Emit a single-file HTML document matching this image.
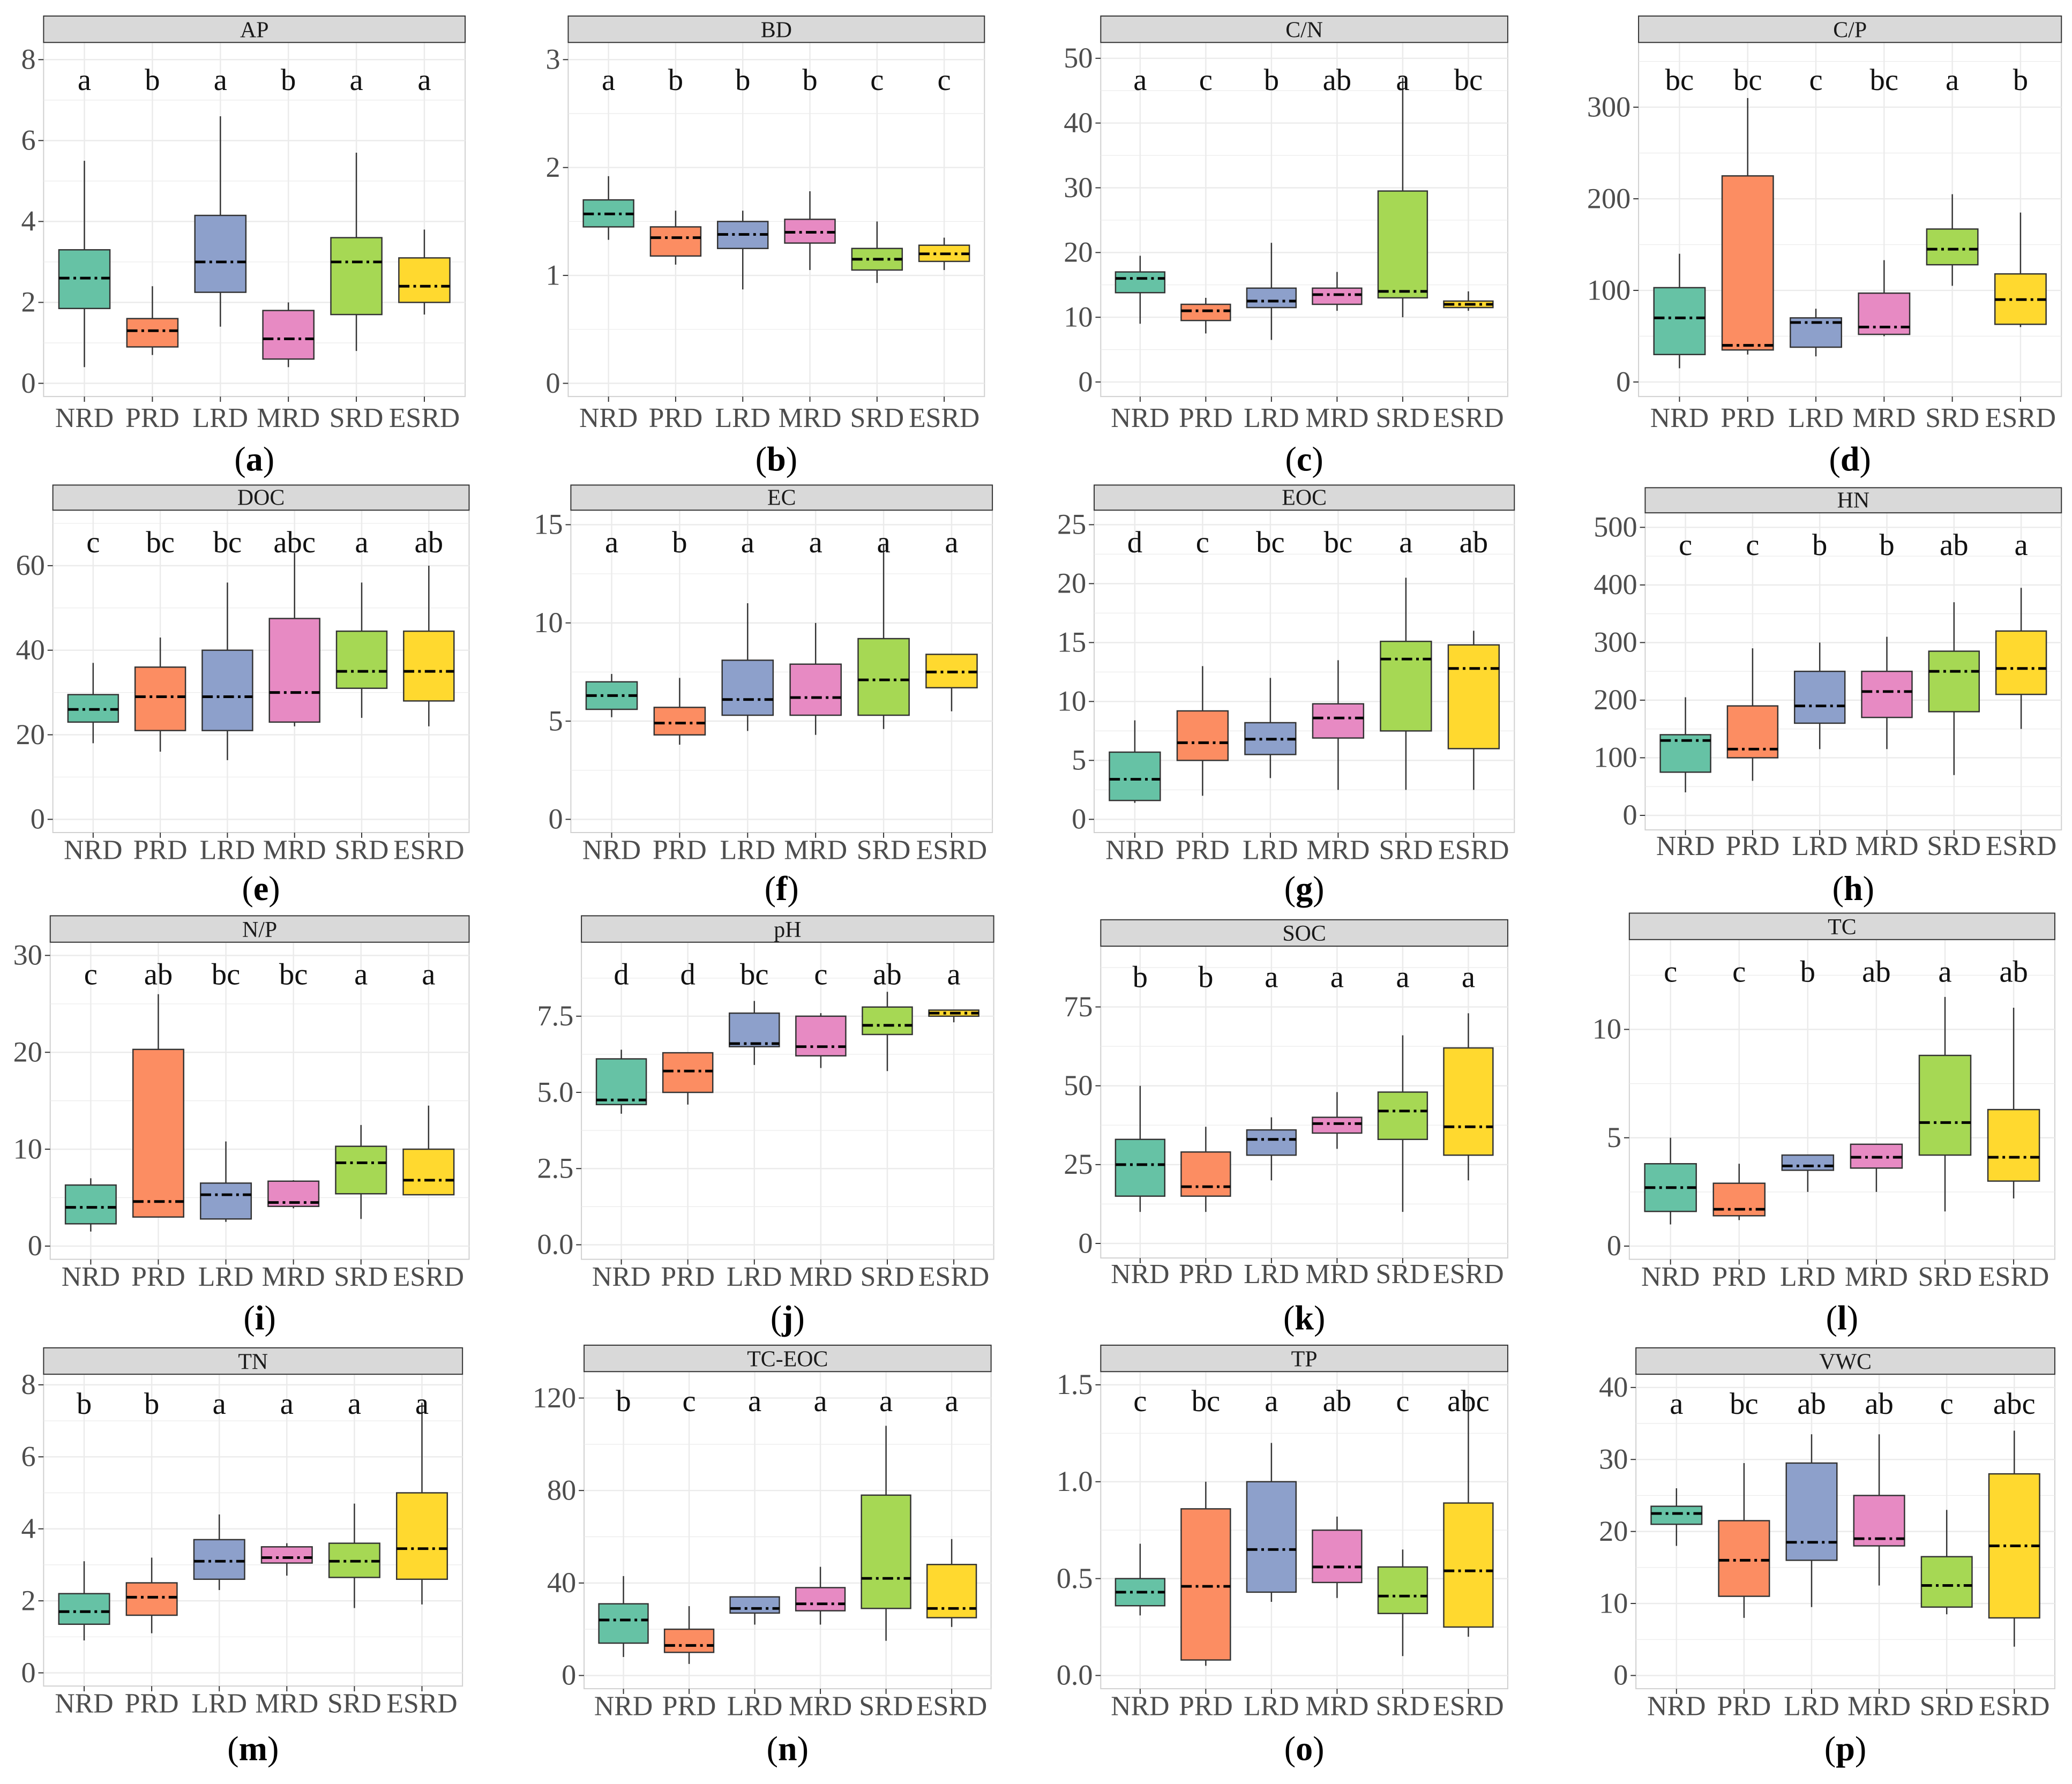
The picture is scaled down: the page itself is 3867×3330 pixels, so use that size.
<!DOCTYPE html>
<html><head><meta charset="utf-8">
<style>
html,body{margin:0;padding:0;background:#fff;}
svg{display:block;}
text{font-family:"Liberation Serif",serif;}
</style></head>
<body>
<svg id="chart" width="3867" height="3330" viewBox="0 0 1568 1350" xmlns="http://www.w3.org/2000/svg"></svg>
<script>
const categories = ["NRD","PRD","LRD","MRD","SRD","ESRD"];
const colors = ["#66c2a5","#fc8d62","#8da0cb","#e78ac3","#a6d854","#ffd92f"];
const titles = ["AP","BD","C/N","C/P","DOC","EC","EOC","HN","N/P","pH","SOC","TC","TN","TC-EOC","TP","VWC"];
const captions = ["a","b","c","d","e","f","g","h","i","j","k","l","m","n","o","p"];
const letters = [
 ["a","b","a","b","a","a"],["a","b","b","b","c","c"],["a","c","b","ab","a","bc"],["bc","bc","c","bc","a","b"],
 ["c","bc","bc","abc","a","ab"],["a","b","a","a","a","a"],["d","c","bc","bc","a","ab"],["c","c","b","b","ab","a"],
 ["c","ab","bc","bc","a","a"],["d","d","bc","c","ab","a"],["b","b","a","a","a","a"],["c","c","b","ab","a","ab"],
 ["b","b","a","a","a","a"],["b","c","a","a","a","a"],["c","bc","a","ab","c","abc"],["a","bc","ab","ab","c","abc"]];
const ticks = [
 ["0","2","4","6","8"],["0","1","2","3"],["0","10","20","30","40","50"],["0","100","200","300"],
 ["0","20","40","60"],["0","5","10","15"],["0","5","10","15","20","25"],["0","100","200","300","400","500"],
 ["0","10","20","30"],["0.0","2.5","5.0","7.5"],["0","25","50","75"],["0","5","10"],
 ["0","2","4","6","8"],["0","40","80","120"],["0.0","0.5","1.0","1.5"],["0","10","20","30","40"]];
// box stats per group: [q1, median, q3, whiskerLow, whiskerHigh]
const AP=[[1.85,2.6,3.3,0.4,5.5],[0.9,1.3,1.6,0.7,2.4],[2.25,3.0,4.15,1.4,6.6],[0.6,1.1,1.8,0.4,2.0],[1.7,3.0,3.6,0.8,5.7],[2.0,2.4,3.1,1.7,3.8]];
const BD=[[1.45,1.57,1.7,1.33,1.92],[1.18,1.35,1.45,1.1,1.6],[1.25,1.38,1.5,0.87,1.6],[1.3,1.4,1.52,1.05,1.78],[1.05,1.15,1.25,0.93,1.5],[1.13,1.2,1.28,1.05,1.35]];
const CN=[[13.8,16,17,9,19.5],[9.5,11,12,7.5,13],[11.5,12.5,14.5,6.5,21.5],[12,13.5,14.5,11,17],[13,14,29.5,10,47],[11.5,12,12.5,11,14]];
const CP=[[30,70,103,15,140],[35,40,225,30,310],[38,65,70,28,80],[52,60,97,50,133],[128,145,167,105,205],[63,90,118,60,185]];
const DOC=[[23,26,29.5,18,37],[21,29,36,16,43],[21,29,40,14,56],[23,30,47.5,22,63],[31,35,44.5,24,56],[28,35,44.5,22,60]];
const EC=[[5.6,6.3,7,5.2,7.4],[4.3,4.9,5.7,3.8,7.2],[5.3,6.1,8.1,4.5,11],[5.3,6.2,7.9,4.3,10],[5.3,7.1,9.2,4.6,14],[6.7,7.5,8.4,5.5,8.4]];
const EOC=[[1.6,3.4,5.7,1.4,8.4],[5,6.5,9.2,2,13],[5.5,6.8,8.2,3.5,12],[6.9,8.6,9.8,2.5,13.5],[7.5,13.6,15.1,2.5,20.5],[6,12.8,14.8,2.5,16]];
const HN=[[75,130,140,40,205],[100,115,190,60,290],[160,190,250,115,300],[170,215,250,115,310],[180,250,285,70,370],[210,255,320,150,395]];
const NP=[[2.3,4,6.3,1.5,7],[3,4.6,20.3,3,26],[2.8,5.3,6.5,2.5,10.8],[4.1,4.5,6.7,3.9,6.8],[5.4,8.6,10.3,2.8,12.5],[5.3,6.8,10,5.3,14.5]];
const PH=[[4.6,4.75,6.1,4.3,6.4],[5.0,5.7,6.3,4.6,6.3],[6.5,6.6,7.6,5.9,8.0],[6.2,6.5,7.5,5.8,7.6],[6.9,7.2,7.8,5.7,8.3],[7.5,7.6,7.7,7.3,7.7]];
const SOC=[[15,25,33,10,50],[15,18,29,10,37],[28,33,36,20,40],[35,38,40,30,48],[33,42,48,10,66],[28,37,62,20,73]];
const TC=[[1.6,2.7,3.8,1,5],[1.4,1.7,2.9,1.2,3.8],[3.5,3.7,4.2,2.5,4.2],[3.6,4.1,4.7,2.5,4.7],[4.2,5.7,8.8,1.6,11.5],[3,4.1,6.3,2.2,11]];
const TN=[[1.35,1.7,2.2,0.9,3.1],[1.6,2.1,2.5,1.1,3.2],[2.6,3.1,3.7,2.3,4.4],[3.05,3.2,3.5,2.7,3.6],[2.65,3.1,3.6,1.8,4.7],[2.6,3.45,5.0,1.9,7.5]];
const TCEOC=[[14,24,31,8,43],[10,13,20,5,30],[27,29,34,22,34],[28,31,38,22,47],[29,42,78,15,108],[25,29,48,21,59]];
const TP=[[0.36,0.43,0.5,0.31,0.68],[0.08,0.46,0.86,0.05,1.0],[0.43,0.65,1.0,0.38,1.2],[0.48,0.56,0.75,0.4,0.82],[0.32,0.41,0.56,0.1,0.65],[0.25,0.54,0.89,0.2,1.43]];
const VWC=[[21,22.5,23.5,18,26],[11,16,21.5,8,29.5],[16,18.5,29.5,9.5,33.5],[18,19,25,12.5,33.5],[9.5,12.5,16.5,8.5,23],[8,18,28,4,34]];
const stats=[AP,BD,CN,CP,DOC,EC,EOC,HN,NP,PH,SOC,TC,TN,TCEOC,TP,VWC];

// layout: x0,x1, headerTop, headerBottom, plotBottom, tick calibration (v0,p0,v1,p1), labelY, letterY, captionY
const layout=[
 [33,352,12,32,300, 0,290,8,45, 315,60,347],
 [430,745,12,32,300, 0,290,3,45, 315,60,347],
 [833,1141,12,32,300, 0,289,50,44, 315,60,347],
 [1240,1560,12,32,300, 0,289,300,81, 315,60,347],
 [40,355,367,386,630, 0,620,60,428, 642,410,672],
 [432,751,367,386,630, 0,620,15,397, 642,410,672],
 [828,1146,367,386,630, 0,620,25,397, 642,410,672],
 [1245,1560,369,388,628, 0,617,500,399, 639,412,672],
 [38,355,693,713,953, 0,943,30,723, 965,737,997],
 [440,752,693,713,953, 0,942,7.5,769, 965,737,997],
 [833,1141,696,716,952, 0,941,75,762, 963,739,997],
 [1233,1555,691,711,953, 0,943,10,779, 965,735,997],
 [33,350,1020,1040,1276, 0,1266,8,1048, 1288,1062,1323],
 [442,750,1018,1038,1278, 0,1268,120,1058, 1290,1060,1323],
 [833,1141,1018,1038,1278, 0,1268,1.5,1048, 1290,1060,1323],
 [1238,1555,1020,1040,1278, 0,1268,40,1050, 1290,1062,1323]];

const svg=document.getElementById('chart');
const NS="http://www.w3.org/2000/svg";
function mk(tag,attrs,parent){const e=document.createElementNS(NS,tag);for(const k in attrs)e.setAttribute(k,attrs[k]);(parent||svg).appendChild(e);return e;}

stats.forEach((st,pi)=>{
 const L=layout[pi];
 const [x0,x1,ht,hb,pb,v0,p0,v1,p1,labY,letY,capY]=L;
 const g=mk('g',{});
 
 
 const yS=v=>p0+(v-v0)*(p1-p0)/(v1-v0);
 const unit=(x1-x0)/6.2;
 const xS=i=>x0+unit*(0.6+i);
 // plot background
 const bg=mk('rect',{x:x0,y:hb,width:x1-x0,height:pb-hb,fill:'#fff',stroke:'#d0d0d0','stroke-width':0.8},g);
 
 
 // grid
 const tv=ticks[pi].map(Number);
 const step=tv[1]-tv[0];
 for(let k=0;k<tv.length*2+2;k++){
  const v=tv[0]+step*(k/2-0.5);
  const y=yS(v);
  if(y<hb||y>pb)continue;
  mk('line',{x1:x0,x2:x1,y1:y,y2:y,stroke:'#ebebeb','stroke-width':k%2===1?1:0.5},g);
 }
 for(let i=0;i<6;i++){
  mk('line',{x1:xS(i),x2:xS(i),y1:hb,y2:pb,stroke:'#ebebeb','stroke-width':1},g);
 }
 // header
 const hr=mk('rect',{x:x0,y:ht,width:x1-x0,height:hb-ht,fill:'#d9d9d9',stroke:'#333','stroke-width':0.8},g);
 
 
 const htx=mk('text',{x:(x0+x1)/2,y:hb-4,'text-anchor':'middle','font-size':17,fill:'#1a1a1a'},g);
 htx.textContent=titles[pi];
 
 
 // y ticks
 ticks[pi].forEach(t=>{
  const y=yS(Number(t));
  mk('line',{x1:x0-4,x2:x0,y1:y,y2:y,stroke:'#333','stroke-width':0.8},g);
  const tt=mk('text',{x:x0-6,y:y+7,'text-anchor':'end','font-size':22,fill:'#4d4d4d'},g);
  tt.textContent=t;
  
  
 });
 // boxes
 const bw=unit*0.75;
 st.forEach((s,i)=>{
  const [q1,med,q3,lo,hi]=s;
  const cx=xS(i);
  const bx=mk('g',{},g);
  
  
  mk('line',{x1:cx,x2:cx,y1:yS(hi),y2:yS(q3),stroke:'#333','stroke-width':1},bx);
  mk('line',{x1:cx,x2:cx,y1:yS(q1),y2:yS(lo),stroke:'#333','stroke-width':1},bx);
  mk('rect',{x:cx-bw/2,y:yS(q3),width:bw,height:Math.max(1,yS(q1)-yS(q3)),fill:colors[i],stroke:'#333','stroke-width':1},bx);
  mk('line',{x1:cx-bw/2,x2:cx+bw/2,y1:yS(med),y2:yS(med),stroke:'#000','stroke-width':2,'stroke-dasharray':'8,3,2,3'},bx);
  const lt=mk('text',{x:cx,y:letY+8,'text-anchor':'middle','font-size':23,fill:'#111'},g);
  lt.textContent=letters[pi][i];
  
  
  mk('line',{x1:cx,x2:cx,y1:pb,y2:pb+4,stroke:'#333','stroke-width':0.8},g);
  const xl=mk('text',{x:cx,y:labY+8,'text-anchor':'middle','font-size':21,fill:'#4d4d4d'},g);
  xl.textContent=categories[i];
  
  
 });
 const cap=mk('text',{x:(x0+x1)/2,y:capY+9,'text-anchor':'middle','font-size':26,fill:'#000'},g);
 cap.innerHTML='(<tspan font-weight="bold">'+captions[pi]+'</tspan>)';
 
 
});
</script>
</body></html>
